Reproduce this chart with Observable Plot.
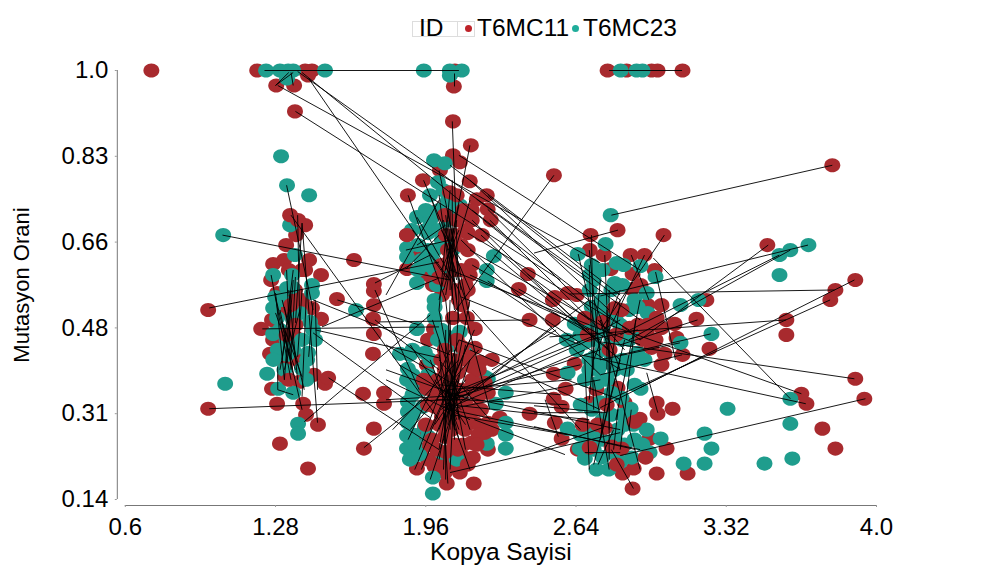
<!DOCTYPE html>
<html>
<head>
<meta charset="utf-8">
<script src="https://cdn.jsdelivr.net/npm/d3@7"></script>
<script src="https://cdn.jsdelivr.net/npm/@observablehq/plot@0.6"></script>
<style>
html,body{margin:0;padding:0;background:#fff;}
body{width:1000px;height:570px;position:relative;overflow:hidden;font-family:"Liberation Sans",Arial,sans-serif;}
svg{position:absolute;left:0;top:0;}
#legend{position:absolute;left:0;top:0;width:1000px;height:60px;color:#000;font-size:24.5px;line-height:28px;z-index:2;}
#legend span,#legend i{position:absolute;display:block;}
#legend .box{left:412px;top:21px;width:63px;height:16px;border:1px solid #ddd;box-sizing:border-box;}
#legend .sep{left:457px;top:21px;width:1px;height:16px;background:#ddd;}
#legend .t{top:14px;white-space:nowrap;}
#legend .d{top:24.5px;width:7px;height:7px;border-radius:50%;}
</style>
</head>
<body>
<div id="legend">
  <i class="box"></i><i class="sep"></i>
  <span class="t" id="lgTitle" style="left:419px"></span>
  <i class="d" style="left:464.5px;background:#BE2329"></i>
  <span class="t" id="lg0" style="left:477px"></span>
  <i class="d" style="left:571.5px;background:#20AD9B"></i>
  <span class="t" id="lg1" style="left:583px"></span>
</div>
<script>
const legendTitle = "ID";
const seriesNames = ["T6MC11", "T6MC23"];
const xTitle = "Kopya Sayisi";
const yTitle = "Mutasyon Orani";
const xTickValues = [0.6, 1.28, 1.96, 2.64, 3.32, 4.0];
const xTickLabels = ["0.6", "1.28", "1.96", "2.64", "3.32", "4.0"];
const yTickValues = [0.14, 0.312, 0.484, 0.656, 0.828, 1.0];
const yTickLabels = ["0.14", "0.31", "0.48", "0.66", "0.83", "1.0"];

// T6MC11 observations drawn beneath T6MC23
const redBack = [
[.718,1],[1.197,1],[1.414,1],[1.445,1],[1.427,.99],[1.283,.97],[1.364,.97],[1.368,.918],
[2.092,1],[2.087,.968],[2.783,1],[2.869,1],[2.982,1],[3.009,1],[3.122,1],
[.975,.52],[.975,.322],[1.373,.67],[1.328,.65],[1.269,.612],[1.319,.62],[1.432,.62],[1.414,.60],[1.486,.59],[1.26,.58],
[1.287,.554],[1.368,.56],[1.337,.54],[1.445,.524],[1.486,.502],[1.215,.482],[1.264,.50],[1.355,.506],[1.269,.46],[1.255,.432],
[1.368,.466],[1.323,.386],[1.323,.406],[1.39,.376],[1.454,.39],[1.504,.372],[1.518,.384],[1.264,.362],[1.287,.332],[1.405,.332],
[1.418,.31],[1.472,.29],[1.30,.252],[1.427,.202],[1.558,.542],[1.635,.62],[1.725,.572],[1.725,.558],[1.725,.53],[1.721,.502],
[1.725,.472],[1.721,.432],[1.676,.352],[1.771,.354],[1.771,.332],[1.725,.282],[1.68,.242],
[2.083,.898],[2.164,.85],[2.083,.83],[2.114,.816],[2.024,.80],[1.947,.78],[2.159,.778],[1.879,.75],[2.236,.75],[2.191,.742],
[2.24,.722],[2.168,.72],[2.254,.70],[2.168,.70],[2.214,.67],[2.15,.674],[1.875,.67],[1.933,.634],[2.15,.64],[2.168,.61],[2.159,.59],
[1.875,.602],[1.97,.59],[1.992,.57],[2.037,.556],[2.15,.56],[2.123,.546],[2.422,.592],[2.381,.562],[2.54,.79],[2.602,.554],[2.544,.546],
[2.0,.716],[2.123,.53],[2.033,.55],[2.083,.504],[2.146,.504],[2.182,.482],[1.997,.482],[1.97,.46],[2.182,.444],[2.259,.42],[2.205,.416],[1.965,.41],
[2.43,.50],[2.43,.312],[2.295,.304],[2.259,.28],[2.241,.24],[2.173,.224],[1.942,.24],[1.97,.22],[1.92,.202],[2.114,.194],[2.055,.172],[2.177,.172],
[2.0,.206],[2.046,.194],[1.942,.272],[2.03,.22],[2.08,.21],[2.13,.225],
[2.828,.68],[2.706,.67],[3.036,.67],[2.702,.64],[2.765,.63],[2.887,.63],[2.95,.63],[2.797,.602],[2.996,.60],[2.896,.592],[2.932,.57],[2.892,.562],
[2.643,.55],[2.535,.54],[2.535,.50],[3.027,.53],[3.185,.502],[3.23,.54],[3.086,.492],[3.095,.464],[3.244,.442],[3.122,.43],[2.964,.53],
[2.634,.412],[2.539,.392],[2.593,.362],[2.539,.342],[2.575,.326],[2.544,.294],[2.575,.262],[3.005,.334],[3.077,.322],[3.009,.312],[2.928,.302],
[2.702,.334],[2.86,.334],[2.828,.364],[2.733,.36],[3.027,.41],[2.973,.262],[3.05,.242],[2.901,.202],[2.851,.192],[3.005,.192],[3.145,.192],[2.896,.162],
[2.648,.24],[3.80,.81],[3.506,.65],[3.904,.58],[3.814,.56],[3.791,.54],[3.592,.50],[3.592,.47],[3.904,.382],[3.945,.342],[3.66,.352],[3.683,.332],[3.755,.282],[3.814,.242],
[1.30,.52],[1.40,.54],[1.30,.44],[1.38,.42],[1.34,.60],[1.40,.60]
];

// T6MC23 observations
const tealPoints = [
[1.237,1],[1.30,1],[1.337,1],[1.36,1],[1.504,1],[1.332,.984],[1.305,.828],[1.332,.77],[1.432,.75],[1.043,.67],[1.346,.69],
[1.951,1],[2.069,1],[2.123,1],[2.069,.99],[2.842,1],[2.914,1],[2.941,1],
[1.052,.372],[1.242,.392],[1.269,.59],[1.355,.59],[1.368,.63],[1.445,.57],[1.332,.564],[1.445,.554],[1.278,.546],[1.269,.524],[1.287,.504],[1.269,.472],
[1.39,.514],[1.436,.496],[1.45,.48],[1.459,.46],[1.427,.434],[1.332,.43],[1.40,.402],[1.292,.362],[1.36,.354],[1.382,.292],[1.382,.272],[1.355,.566],[1.423,.42],[1.644,.52],
[1.30,.48],[1.33,.46],[1.36,.50],[1.40,.46],[1.29,.44],[1.36,.44],[1.42,.38],[1.32,.40],[1.27,.42],[1.31,.54],
[1.997,.82],[2.046,.814],[2.015,.776],[1.979,.75],[2.114,.73],[1.92,.706],[1.897,.68],[1.97,.674],[1.924,.65],[1.875,.644],[1.875,.626],[1.988,.62],[1.924,.60],[1.92,.574],
[2.268,.628],[2.236,.60],[2.236,.578],[2.033,.66],[2.092,.716],[2.046,.594],[2.0,.54],[2.06,.70],[2.08,.64],[2.0,.64],
[1.98,.70],[1.96,.68],[1.94,.62],[2.0,.60],[1.97,.64],[2.02,.72],[2.04,.76],[2.06,.74],[1.96,.72],[2.02,.68],[1.97,.61],[2.01,.57],
[2.0,.526],[2.0,.504],[1.92,.482],[1.843,.432],[1.888,.43],[1.956,.434],[1.879,.402],[1.875,.38],[1.902,.37],[1.879,.336],[1.879,.316],[1.879,.294],[1.875,.268],[1.875,.242],[1.888,.22],
[1.992,.184],[1.992,.152],[2.10,.22],[2.033,.234],[2.227,.386],[2.241,.382],[2.277,.332],[2.322,.354],[2.322,.294],[2.322,.27],[2.322,.242],[2.236,.252],[2.06,.466],[2.114,.476],
[1.956,.286],[1.97,.266],[1.933,.36],[1.947,.326],[2.015,.46],[2.137,.434],
[1.90,.44],[1.90,.39],[1.90,.35],[1.90,.31],[1.90,.27],[1.91,.25],[1.93,.23],[1.97,.39],[1.98,.42],[2.03,.48],[2.08,.45],
[2.797,.71],[2.774,.652],[2.648,.632],[2.824,.614],[2.855,.61],[2.932,.608],[2.711,.61],[3.0,.586],[2.702,.59],[2.815,.574],[2.96,.554],[2.905,.54],[2.702,.56],[2.919,.526],
[3.113,.53],[3.194,.54],[3.253,.472],[3.113,.454],[2.634,.492],[2.598,.46],[2.643,.44],[2.756,.54],[2.711,.526],[2.964,.514],[2.846,.46],[2.919,.434],[2.724,.426],[2.68,.454],[2.76,.48],[2.82,.50],
[2.72,.58],[2.76,.60],[2.80,.56],[2.85,.57],[2.88,.52],[2.72,.50],[2.75,.52],[2.79,.51],[2.84,.49],[2.69,.48],[2.72,.46],[2.76,.44],[2.80,.46],[2.88,.46],[2.70,.42],[2.75,.41],[2.80,.42],[2.85,.42],[2.90,.47],[2.66,.47],[2.74,.40],[2.87,.40],[2.78,.38],[2.70,.40],
[2.602,.394],[3.326,.322],[3.222,.272],[3.253,.242],[3.222,.212],[3.127,.212],[2.932,.362],[2.905,.37],[2.661,.33],[2.711,.32],[2.887,.322],[2.602,.282],[3.023,.262],[2.657,.242],[2.68,.222],
[2.733,.20],[2.788,.20],[2.892,.224],[2.973,.234],[2.905,.26],[2.828,.28],[2.756,.26],[2.815,.26],[2.693,.274],[2.846,.344],[2.801,.354],[2.68,.38],[2.738,.374],[2.815,.40],[2.905,.42],[2.95,.42],
[2.72,.24],[2.76,.225],[2.82,.23],[2.86,.25],[2.94,.25],[2.96,.28],[2.90,.29],[2.86,.29],[2.76,.30],[2.72,.28],[2.66,.27],[2.84,.215],[2.70,.255],[2.80,.31],[2.75,.335],[2.85,.31],
[3.561,.63],[3.61,.64],[3.692,.65],[3.561,.59],[3.61,.342],[3.61,.292],[3.493,.212],[3.619,.222]
];

// T6MC11 observations drawn above T6MC23
const redFront = [
[1.346,.71],[1.382,.70],[1.414,.69],[1.33,.47],[1.35,.53],[1.34,.38],[1.37,.49],
[2.069,.756],[1.875,.67],[2.046,.71],[2.05,.67],[2.09,.60],
[2.10,.70],[2.14,.68],[2.06,.64],[2.12,.65],[2.03,.61],[2.07,.62],[2.12,.60],[2.14,.57],[2.05,.58],[2.09,.56],[2.02,.585],[2.11,.54],[2.10,.75],[2.13,.72],[2.09,.67],
[2.078,.42],[2.03,.42],[2.10,.46],[1.97,.33],[1.96,.29],[1.98,.25],[1.95,.38],
[2.0,.354],[2.078,.38],[2.015,.38],[2.241,.354],[2.227,.374],[1.965,.362],[2.0,.326],[2.033,.306],[2.123,.314],[2.078,.34],[2.15,.36],[2.046,.36],[2.105,.394],[2.168,.406],[2.046,.44],[2.123,.446],[2.046,.40],
[2.196,.346],[2.227,.274],[2.168,.254],[2.105,.24],[2.046,.266],[1.988,.26],[2.182,.294],[2.078,.28],[2.137,.28],[2.241,.294],[2.196,.366],[2.15,.426],
[2.02,.34],[2.06,.32],[2.10,.34],[2.14,.33],[2.18,.32],[2.21,.32],[2.02,.29],[2.06,.30],[2.10,.30],[2.14,.30],[2.12,.36],[2.08,.40],[2.12,.42],[2.17,.38],[2.20,.40],[2.09,.25],[2.13,.25],[2.20,.27],[2.05,.235],[2.15,.21],[2.19,.25],[2.01,.24],
[2.846,.52],[2.815,.524],[2.76,.496],[2.68,.504],[2.693,.47],[2.792,.44],[2.883,.484],[3.005,.504],[2.964,.49],[3.027,.484],[2.96,.476],[2.982,.444],[3.041,.432],[2.94,.46],[2.92,.49],[3.0,.46],[2.82,.47],
[2.779,.33],[2.67,.29],[2.738,.29],[2.77,.284],[2.905,.296],[2.801,.246],[2.702,.244],[2.846,.242],[2.824,.21],[2.955,.224]
];

// Pairs linked by a thin line: [x1, y1, x2, y2]
const links = [
[1.23,1,2.11,1],[2.79,1,3.12,1],[1.38,.998,2.70,.582],[1.29,.97,2.75,.614],[1.37,.918,2.57,.58],[1.43,.984,2.05,.586],[1.34,.996,1.28,.97],[1.36,.996,1.28,.97],[1.35,.996,1.36,.97],[1.40,.996,2.39,.64],[2.09,.994,2.09,.968],
[1.04,.67,2.07,.58],[.98,.524,2.02,.616],[.98,.322,2.07,.34],[1.33,.77,1.45,.52],[1.35,.71,2.02,.30],[1.40,.694,1.47,.294],[1.40,.694,1.37,.494],[1.26,.59,1.35,.38],[1.28,.546,1.40,.32],[1.28,.554,1.32,.38],[1.35,.56,1.32,.38],[1.36,.58,1.33,.414],[1.37,.586,1.35,.42],[1.42,.56,1.40,.346],[1.40,.56,1.38,.426],[1.45,.534,1.43,.426],[1.46,.54,1.47,.36],[1.29,.36,1.36,.35],[1.29,.406,1.29,.36],[1.28,.514,1.37,.40],[1.31,.494,1.40,.386],[1.32,.526,1.37,.426],
[1.22,.482,2.02,.486],[1.46,.48,2.02,.424],[1.45,.474,1.98,.304],[1.52,.384,2.02,.24],[1.41,.296,1.98,.51],[1.68,.244,1.98,.35],[1.45,.54,2.07,.43],[1.49,.486,2.02,.584],[1.56,.54,1.93,.49],[1.73,.574,1.98,.63],[1.73,.56,1.93,.36],[1.73,.50,2.02,.40],[1.38,.71,1.39,.48],[1.31,.54,1.41,.36],[1.39,.52,1.32,.40],
[1.33,.60,1.35,.40],[1.36,.60,1.31,.42],[1.34,.56,1.38,.38],[1.30,.52,1.36,.39],[1.35,.52,1.30,.40],
[2.08,.898,2.11,.54],[2.16,.85,2.05,.60],[2.02,.80,2.16,.50],[1.95,.78,2.16,.56],[1.88,.75,2.05,.54],[1.90,.68,2.07,.58],[2.07,.76,2.02,.52],[2.11,.73,2.02,.54],[2.05,.71,2.11,.50],[2.02,.75,2.09,.52],[1.98,.75,2.14,.54],[1.92,.706,2.11,.56],[1.87,.64,2.07,.66],[1.87,.602,2.02,.67],[1.92,.65,2.05,.69],[1.78,.55,2.02,.74],[2.54,.79,2.09,.516],[2.08,.78,2.08,.54],[2.06,.72,2.12,.56],[2.16,.74,2.04,.56],
[2.04,.70,2.10,.58],[2.10,.70,2.05,.58],[2.07,.72,2.07,.56],[2.03,.68,2.12,.62],[2.11,.68,2.03,.60],[2.05,.66,2.09,.57],[2.09,.66,2.05,.55],[2.06,.70,2.10,.54],
[2.11,.83,2.93,.60],[2.07,.81,2.84,.55],[2.16,.78,2.79,.52],[2.24,.75,2.84,.54],[2.19,.742,2.93,.50],[2.24,.722,2.70,.52],[2.25,.70,2.75,.48],[2.17,.72,2.93,.46],[2.17,.70,2.75,.45],[2.21,.67,2.79,.44],[2.15,.674,2.88,.48],[2.27,.63,2.84,.42],[2.16,.64,2.79,.48],[2.17,.61,2.75,.46],[2.16,.59,2.70,.48],[2.24,.578,2.84,.40],[2.12,.546,2.66,.45],[2.07,.60,2.93,.45],[2.42,.592,2.70,.50],[2.38,.562,2.79,.46],[2.12,.66,2.75,.39],
[2.80,.71,3.80,.81],[2.93,.46,3.51,.65],[2.88,.46,3.61,.64],[2.75,.548,3.69,.65],[2.84,.47,3.56,.63],[2.61,.552,3.81,.56],[2.75,.324,3.90,.58],[2.79,.34,3.79,.54],[2.52,.466,3.59,.50],[2.75,.456,3.90,.382],[2.84,.228,3.95,.342],[2.79,.49,3.66,.352],[2.66,.43,3.68,.332],[2.99,.624,3.61,.342],[2.84,.45,3.19,.50],[2.75,.42,3.11,.454],[2.75,.39,3.12,.43],[2.84,.43,3.25,.472],[2.96,.394,3.01,.314],[2.93,.364,3.21,.426],[2.45,.634,2.83,.68],
[2.71,.67,2.72,.40],[3.04,.67,2.75,.48],[2.70,.64,2.75,.42],[2.77,.63,2.79,.42],[2.89,.63,2.97,.54],[2.95,.63,2.79,.48],[3.00,.596,3.09,.42],[2.75,.58,2.70,.34],[2.65,.632,2.75,.44],[2.70,.61,2.72,.32],[2.79,.56,2.79,.28],[2.84,.54,2.75,.26],[2.93,.54,2.82,.30],[2.91,.50,2.84,.24],[2.75,.50,2.93,.20],[2.68,.42,2.70,.20],[2.79,.44,2.79,.22],[2.72,.38,2.79,.20],[2.86,.46,2.72,.21],[2.84,.42,2.75,.26],[2.68,.234,2.84,.234],[2.83,.32,2.81,.24],[2.89,.32,2.88,.28],[2.90,.162,2.80,.24],[2.74,.21,2.81,.28],[2.45,.286,2.91,.24],[2.45,.314,2.76,.314],[2.45,.328,2.78,.314],[2.50,.34,2.56,.266],[2.45,.234,2.76,.284],
[2.72,.54,2.84,.40],[2.84,.56,2.72,.42],[2.78,.52,2.78,.40],[2.74,.50,2.86,.44],[2.70,.46,2.92,.48],[2.76,.48,2.84,.50],
[2.07,.35,2.66,.41],[2.09,.34,2.70,.46],[2.07,.34,2.75,.44],[2.11,.36,2.79,.48],[2.05,.32,2.75,.38],[2.07,.33,2.70,.30],[2.09,.35,2.84,.28],[2.07,.32,2.93,.24],[2.14,.35,2.70,.54],[2.26,.40,2.55,.48],[2.18,.30,2.59,.23],[2.06,.314,2.53,.486],[2.07,.194,2.84,.274],[1.75,.496,2.43,.50],[2.17,.52,2.66,.28],[2.11,.46,2.84,.34],[2.16,.44,2.75,.32],[2.02,.37,2.57,.35],
[2.10,.33,2.68,.44],[2.06,.36,2.62,.38],[2.12,.34,2.60,.33],[2.08,.31,2.60,.27],[2.10,.35,2.64,.47],
[2.05,.48,2.05,.18],[1.98,.42,2.16,.20],[2.02,.52,2.14,.24],[2.16,.54,2.02,.22],[2.11,.54,2.07,.20],[2.02,.46,2.06,.172],[2.07,.50,2.09,.26],[2.18,.48,1.98,.28],[2.11,.46,1.93,.24],[2.20,.44,1.89,.28],[2.09,.44,2.09,.28],[2.05,.54,2.11,.30],[2.09,.42,2.02,.24],[1.99,.50,2.16,.28],[2.14,.45,2.05,.25],[2.02,.43,2.11,.26],[2.07,.54,2.04,.20],[1.84,.41,2.11,.34],[1.89,.45,2.09,.31],[1.78,.40,2.16,.34],[1.78,.34,2.16,.35],[1.78,.45,2.09,.37],[1.78,.38,2.16,.30],[1.81,.28,2.11,.42],[1.91,.20,2.16,.46],[1.88,.26,2.07,.44],[1.94,.20,2.11,.38],[1.98,.18,2.16,.42],[2.02,.42,2.25,.30],[2.11,.56,2.25,.32],
[2.0,.38,2.14,.29],[2.14,.38,2.0,.29],[2.07,.40,2.07,.28],[2.02,.39,2.11,.28],[2.11,.39,2.02,.28],[2.05,.40,2.09,.28],
[2.04,.38,2.10,.30],[2.10,.38,2.04,.30],[2.06,.39,2.08,.29],[2.08,.39,2.06,.29],[2.03,.36,2.12,.32],[2.12,.36,2.03,.32],[2.01,.34,2.14,.34],[2.05,.37,2.09,.30],[2.09,.37,2.05,.30],[2.06,.36,2.11,.31],[2.11,.36,2.06,.31],[2.04,.33,2.11,.34]
];

const red = "#A82A2E", teal = "#1F9D8D";
document.getElementById("lgTitle").textContent = legendTitle;
document.getElementById("lg0").textContent = seriesNames[0];
document.getElementById("lg1").textContent = seriesNames[1];

// Slightly flattened circle, as the reference's markers are wider than tall
const oval = {draw(c, size) {
  const r = Math.sqrt(size / Math.PI), a = r * 1.06, b = r * 0.94, k = 0.5523;
  c.moveTo(a, 0);
  c.bezierCurveTo(a, k * b, k * a, b, 0, b);
  c.bezierCurveTo(-k * a, b, -a, k * b, -a, 0);
  c.bezierCurveTo(-a, -k * b, -k * a, -b, 0, -b);
  c.bezierCurveTo(k * a, -b, a, -k * b, a, 0);
  c.closePath();
}};
const dotOpts = (fill) => ({x: d => d[0], y: d => d[1], r: 7.5, fill, stroke: "none", symbol: oval});

const chart = Plot.plot({
  width: 1000, height: 570,
  marginLeft: 124.8, marginRight: 124, marginTop: 70, marginBottom: 71,
  style: {fontFamily: '"Liberation Sans", Arial, sans-serif', background: "#fff", overflow: "visible", color: "#000"},
  x: {domain: [0.6, 4.0]},
  y: {domain: [0.14, 1.0]},
  marks: [
    Plot.dot(redBack, dotOpts(red)),
    Plot.dot(tealPoints, dotOpts(teal)),
    Plot.dot(redFront, dotOpts(red)),
    Plot.link(links, {x1: d => d[0], y1: d => d[1], x2: d => d[2], y2: d => d[3], stroke: "#000", strokeWidth: 1, strokeOpacity: 0.9}),
    Plot.ruleY([0.14], {dy: 6, stroke: "#777", strokeWidth: 1}),
    Plot.ruleX([0.6], {dx: -8, stroke: "#777", strokeWidth: 1}),
    Plot.axisX({ticks: xTickValues, tickFormat: v => xTickLabels[xTickValues.indexOf(v)], label: null, dy: 6, tickSize: 2, tickPadding: 10, fontSize: 24, stroke: "#999", fill: "#000"}),
    Plot.axisY({ticks: yTickValues, tickFormat: v => yTickLabels[yTickValues.indexOf(v)], label: null, dx: -8, tickSize: 2, tickPadding: 7, fontSize: 24, stroke: "#999", fill: "#000"}),
    Plot.text([xTitle], {frameAnchor: "bottom", dy: 60, fontSize: 24.5, fill: "#000"}),
    Plot.text([yTitle], {frameAnchor: "left", textAnchor: "middle", rotate: -90, dx: -103, fontSize: 22, fill: "#000"})
  ]
});
document.body.appendChild(chart);
</script>
</body>
</html>
